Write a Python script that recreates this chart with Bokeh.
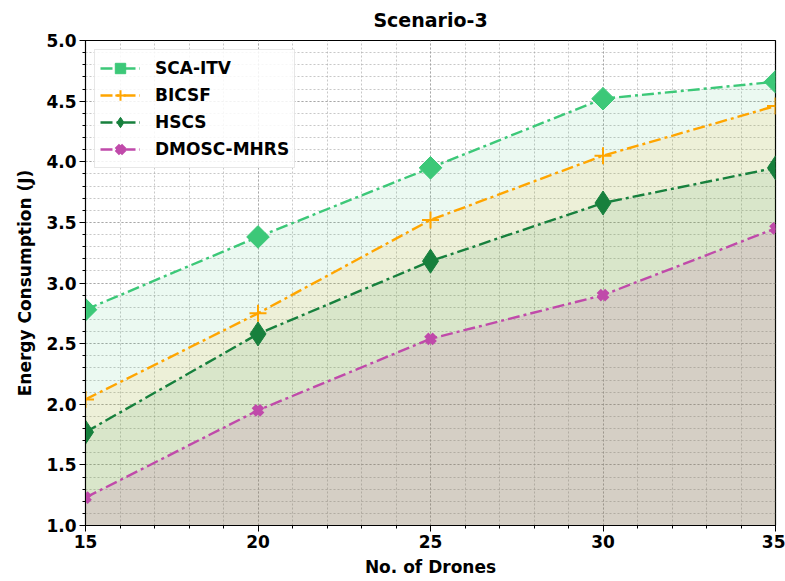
from bokeh.plotting import figure
from bokeh.models import Range1d, SingleIntervalTicker, PrintfTickFormatter, Legend, LegendItem
from bokeh.embed import file_html
from bokeh.resources import INLINE

drones = [15, 20, 25, 30, 35]
sca_itv = [2.78, 3.38, 3.95, 4.52, 4.66]
bicsf = [2.04, 2.75, 3.52, 4.05, 4.46]
hscs = [1.77, 2.58, 3.18, 3.66, 3.95]
dmosc_mhrs = [1.23, 1.95, 2.54, 2.90, 3.45]

series = [
    ("SCA-ITV", sca_itv, "#3cc878", 0.10),
    ("BICSF", bicsf, "#ffa500", 0.10),
    ("HSCS", hscs, "#17803d", 0.09),
    ("DMOSC-MHRS", dmosc_mhrs, "#c04aaa", 0.14),
]

FONT = "DejaVu Sans"

p = figure(width=785, height=581, output_backend="svg", toolbar_location=None,
           x_range=Range1d(15, 35), y_range=Range1d(1.0, 5.0),
           min_border_left=85, min_border_right=10, min_border_top=40, min_border_bottom=56)

p.title.text = "Scenario-3"
p.title.align = "center"
p.title.vertical_align = "top"
p.title.text_font = FONT
p.title.text_font_size = "19px"
p.title.text_font_style = "bold"
p.title.text_color = "#000000"
p.title.standoff = 16

p.outline_line_color = "#000000"
p.outline_line_width = 1.2

p.xaxis.ticker = SingleIntervalTicker(interval=5, num_minor_ticks=5)
p.yaxis.ticker = SingleIntervalTicker(interval=0.5, num_minor_ticks=5)
p.yaxis.formatter = PrintfTickFormatter(format="%.1f")

for ax in (p.xaxis, p.yaxis):
    ax.major_label_text_font = FONT
    ax.major_label_text_font_size = "17px"
    ax.major_label_text_font_style = "bold"
    ax.major_label_text_color = "#000000"
    ax.axis_label_text_font = FONT
    ax.axis_label_text_font_size = "17px"
    ax.axis_label_text_font_style = "bold"
    ax.axis_label_text_color = "#000000"
    ax.axis_line_color = "#000000"
    ax.major_tick_line_color = "#000000"
    ax.minor_tick_line_color = "#000000"
    ax.major_tick_out = 6
    ax.major_tick_in = 0
    ax.minor_tick_out = 3
    ax.minor_tick_in = 0

p.xaxis.axis_label = "No. of Drones"
p.yaxis.axis_label = "Energy Consumption (J)"
p.xaxis.major_label_standoff = 3
p.yaxis.major_label_standoff = 3
p.xaxis.axis_label_standoff = 6
p.yaxis.axis_label_standoff = 8

for g in (p.xgrid, p.ygrid):
    g.grid_line_color = "#9a9a9a"
    g.grid_line_alpha = 0.7
    g.grid_line_dash = "2 2"
    g.grid_line_width = 1
    g.minor_grid_line_color = "#9a9a9a"
    g.minor_grid_line_alpha = 0.55
    g.minor_grid_line_dash = "2 2"
    g.minor_grid_line_width = 1

# shaded areas beneath each curve
for name, vals, color, alpha in series:
    p.varea(x=drones, y1=[0] * len(vals), y2=vals, fill_color=color, fill_alpha=alpha)

items = []
dash = "12 4 3 4"
for name, vals, color, _ in series:
    ln = p.line(drones, vals, line_color=color, line_width=2.4, line_dash=dash)
    if name == "SCA-ITV":
        mk = p.scatter(drones, vals, marker="square", size=16, angle=0.7854,
                       fill_color=color, line_color=color)
    elif name == "BICSF":
        mk = p.scatter(drones, vals, marker="cross", size=17, line_width=2,
                       line_color=color)
    elif name == "HSCS":
        mk = p.scatter(drones, vals, marker="diamond", size=24,
                       fill_color=color, line_color=color)
    else:
        mk = p.scatter(drones, vals, marker="x", size=12, line_width=6,
                       line_color=color)
    items.append(LegendItem(label=name, renderers=[ln, mk]))

legend = Legend(items=items, location="top_left")
legend.label_text_font = FONT
legend.label_text_font_size = "17px"
legend.label_text_font_style = "bold"
legend.label_text_color = "#000000"
legend.glyph_width = 40
legend.glyph_height = 26
legend.label_height = 26
legend.label_standoff = 15
legend.spacing = 1
legend.padding = 5
legend.margin = 9
legend.border_line_color = "#cfcfcf"
legend.border_line_width = 1.2
legend.background_fill_alpha = 0.85
p.add_layout(legend)

open("out.html", "w").write(file_html(p, INLINE))
